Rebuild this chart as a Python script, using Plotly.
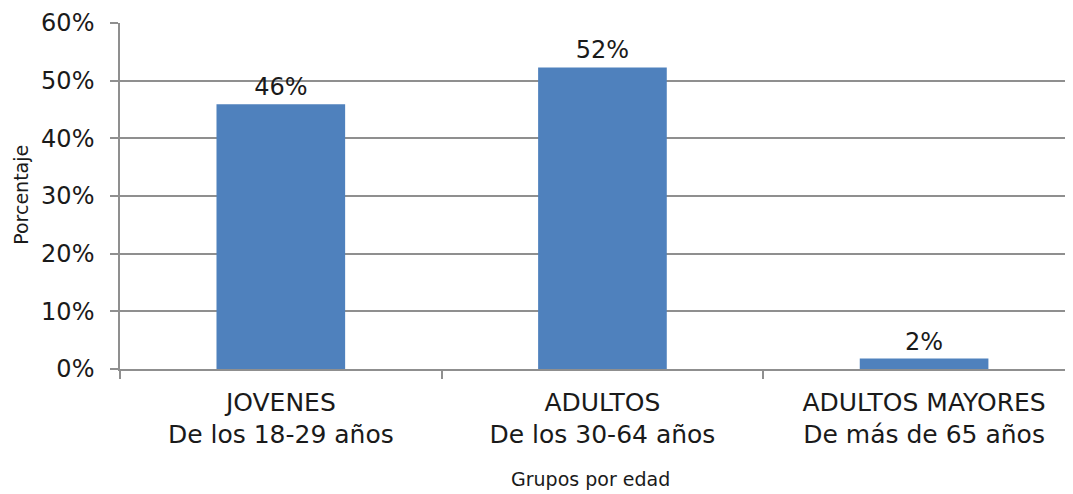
import plotly.graph_objects as go

categories = ["JOVENES<br>De los 18-29 años", "ADULTOS<br>De los 30-64 años", "ADULTOS MAYORES<br>De más de 65 años"]
values = [45.9, 52.3, 1.8]
labels = ["46%", "52%", "2%"]
y_ticks = [0, 10, 20, 30, 40, 50, 60]
y_tick_labels = ["0%", "10%", "20%", "30%", "40%", "50%", "60%"]

FONT = "DejaVu Sans"
TXT = "#1a1a1a"
GRID = "#8f8f8f"

fig = go.Figure(go.Bar(
    x=categories, y=values, text=labels, textposition="outside",
    textfont=dict(family=FONT, size=24, color=TXT),
    marker=dict(color="#4F81BD", line=dict(width=0)),
    width=0.4, cliponaxis=False,
))

# page body has an 8px margin; figure sized/offset to compensate
fig.update_layout(
    width=1065, height=486,
    margin=dict(l=112, r=0, t=15, b=125),
    plot_bgcolor="white", paper_bgcolor="white",
    showlegend=False,
    font=dict(family=FONT, size=24, color=TXT),
    xaxis=dict(
        range=[-0.5, 2.463], tickson="boundaries", ticks="outside", ticklen=8,
        tickcolor=GRID, tickwidth=1.5, showline=True, linecolor=GRID, linewidth=1.5,
        showgrid=False, tickfont=dict(family=FONT, size=25, color=TXT),
        ticklabelstandoff=10,
    ),
    yaxis=dict(
        range=[0, 60], tickmode="array", tickvals=y_ticks, ticktext=y_tick_labels,
        ticks="outside", ticklen=8,
        tickcolor=GRID, tickwidth=1.5, showline=True, linecolor=GRID, linewidth=1.5,
        showgrid=True, gridcolor=GRID, gridwidth=1.5, zeroline=False,
        tickfont=dict(family=FONT, size=24, color=TXT),
        ticklabelstandoff=11,
    ),
    annotations=[
        dict(
            text="Grupos por edad", xref="paper", yref="paper", x=0.494, y=-0.318,
            showarrow=False, xanchor="center", yanchor="middle",
            font=dict(family=FONT, size=19, color=TXT),
        ),
        dict(
            text="Porcentaje", xref="paper", yref="paper", x=-0.104, y=0.503,
            showarrow=False, xanchor="center", yanchor="middle", textangle=-90,
            font=dict(family=FONT, size=19, color=TXT),
        ),
    ],
)

fig.write_html("out.html")
